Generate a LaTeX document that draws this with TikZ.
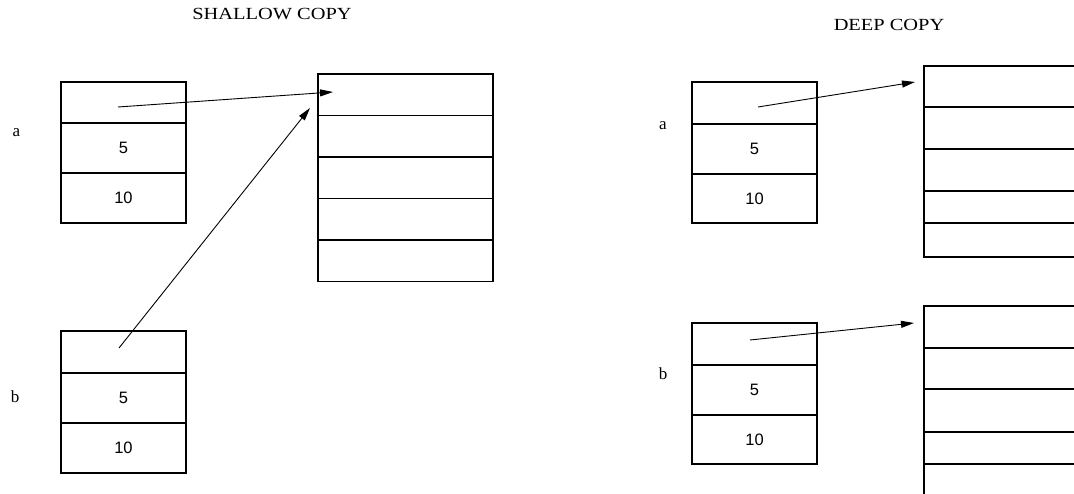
\documentclass[tikz,border=0pt]{standalone}
\usepackage{fontspec}
\setmainfont{Liberation Serif}
\newfontfamily\titlefont[FakeStretch=1.2]{Liberation Serif}
\newfontfamily\numfont{Liberation Sans}
\usetikzlibrary{arrows.meta}
\tikzset{
  cell/.style={draw, line width=1.1pt, inner sep=0pt, minimum width=125pt, font=\numfont\fontsize{16.5}{18}\selectfont},
  bigcell/.style={draw, line width=1.1pt, inner sep=0pt, minimum width=175pt},
  lbl/.style={inner sep=0pt, font=\fontsize{17}{19}\selectfont},
  ttl/.style={inner sep=0pt, font=\titlefont\fontsize{17}{19}\selectfont},
  ptr/.style={line width=0.9pt, -{Triangle[length=13pt,width=7pt]}}
}
\begin{document}
\begin{tikzpicture}[x=1pt,y=-1pt]
\useasboundingbox (0,0) rectangle (1074,494);
\clip (0,0) rectangle (1074,494);
\fill[white] (0,0) rectangle (1074,494);

% titles
\node[ttl] (t1) at (272,14) {SHALLOW COPY};
\node[ttl] (t2) at (889,25) {DEEP COPY};

% ---------- shallow copy ----------
\node[lbl] (la) at (16.5,133) {a};
\node[lbl] (lb) at (15,397) {b};

\node[cell, minimum height=41pt] (a1) at (123.5,102.5) {};
\node[cell, minimum height=50pt] (a2) at (123.5,148) {5};
\node[cell, minimum height=50pt] (a3) at (123.5,198) {10};

\node[cell, minimum height=42pt] (b1) at (123.5,352) {};
\node[cell, minimum height=50pt] (b2) at (123.5,398) {5};
\node[cell, minimum height=50pt] (b3) at (123.5,448) {10};

\node[bigcell, minimum height=41.5pt] (s1) at (405.5,94.75) {};
\node[bigcell, minimum height=41.5pt] (s2) at (405.5,136.25) {};
\node[bigcell, minimum height=41.5pt] (s3) at (405.5,177.75) {};
\node[bigcell, minimum height=41.5pt] (s4) at (405.5,219.25) {};
\node[bigcell, minimum height=41.5pt] (s5) at (405.5,260.75) {};

\coordinate (pa) at (118,107);
\coordinate (qa) at (333,92);
\coordinate (pb) at (119,348);
\coordinate (qb) at (310,108);
\draw[ptr] (pa) -- (qa);
\draw[ptr] (pb) -- (qb);

% ---------- deep copy ----------
\node[lbl] (ra) at (663,126) {a};
\node[lbl] (rb) at (663,374) {b};

\node[cell, minimum height=42pt] (ra1) at (754.5,103) {};
\node[cell, minimum height=50pt] (ra2) at (754.5,149) {5};
\node[cell, minimum height=49pt] (ra3) at (754.5,198.5) {10};

\node[cell, minimum height=42pt] (rb1) at (754.5,344) {};
\node[cell, minimum height=50pt] (rb2) at (754.5,390) {5};
\node[cell, minimum height=49pt] (rb3) at (754.5,439.5) {10};

\node[bigcell, minimum height=41pt] (da1) at (1011.5,86.5) {};
\node[bigcell, minimum height=42pt] (da2) at (1011.5,128) {};
\node[bigcell, minimum height=42pt] (da3) at (1011.5,170) {};
\node[bigcell, minimum height=32pt] (da4) at (1011.5,207) {};
\node[bigcell, minimum height=34pt] (da5) at (1011.5,240) {};

\node[bigcell, minimum height=42pt] (db1) at (1011.5,327) {};
\node[bigcell, minimum height=41pt] (db2) at (1011.5,368.5) {};
\node[bigcell, minimum height=43pt] (db3) at (1011.5,410.5) {};
\node[bigcell, minimum height=32pt] (db4) at (1011.5,448) {};
\node[bigcell, minimum height=41pt] (db5) at (1011.5,484.5) {};

\coordinate (pra) at (758,107);
\coordinate (qra) at (915,82);
\coordinate (prb) at (750,340);
\coordinate (qrb) at (914,323);
\draw[ptr] (pra) -- (qra);
\draw[ptr] (prb) -- (qrb);
\end{tikzpicture}
\end{document}
